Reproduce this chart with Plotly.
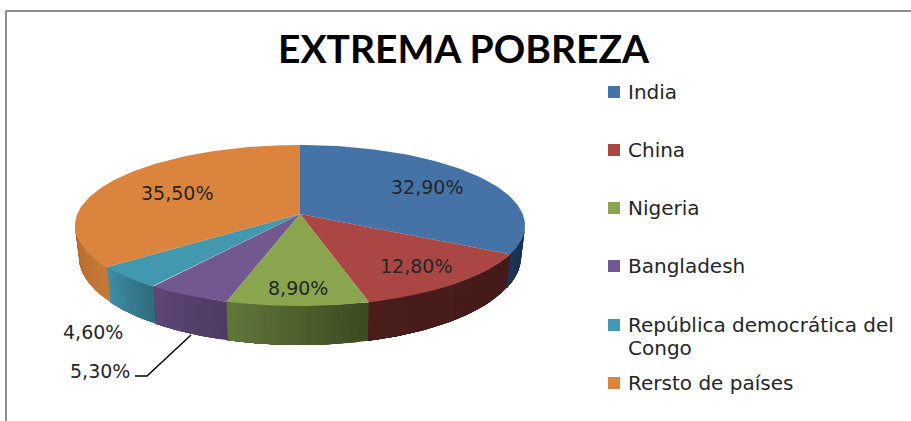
"""Extrema pobreza: tilted 3D pie drawn as filled scatter polygons, because
go.Pie can only do flat circles."""
import numpy as np
import plotly.graph_objects as go

COUNTRIES = ["India", "China", "Nigeria", "Bangladesh",
             "República democrática del<br>Congo", "Rersto de países"]
SHARES = [32.9, 12.8, 8.9, 5.3, 4.6, 35.5]
LABELS = ["32,90%", "12,80%", "8,90%", "5,30%", "4,60%", "35,50%"]
TOP_COLORS = ["#4573A7", "#AA4643", "#89A54E", "#71588F", "#4198AF", "#DB843D"]
# left and right colour of each slice's outer wall
SIDE_COLORS = [
    ("#1B3553", "#17304C"), ("#4A1D1B", "#431A18"), ("#61773A", "#3C4A20"),
    ("#5D4677", "#4E3A62"), ("#3F8FA6", "#2F6B7E"), ("#B06A2E", "#C67A38"),
]
LEGEND_ROWS = [92, 150, 208, 266, 325, 383]
# how far out along its slice each on-pie label sits
LABEL_RADIUS = {0: 0.70, 1: 0.765, 2: 0.827, 5: 0.64}

CX, CY = 300, 214      # where the slices meet
RX, HY = 222.7, 78.9   # projected radii
K = 0.143              # perspective strength
DEPTH = 29             # wall height at the sides of the pie
DEPTH_FRONT = 10       # extra wall height at the very front
BASE_SCALE = 0.983     # the base of the pie is slightly narrower than the top
FONT = "DejaVu Sans"
TEXT = "#262626"


def project(theta, r=1.0):
    """Clockwise angle from 12 o'clock (degrees) to pixel position."""
    t = np.radians(theta)
    u, v = r * np.sin(t), r * np.cos(t)
    w = 1 + K * v
    return CX + RX * u / w, CY - HY * v / w


def project_base(theta):
    """Same, on the bottom edge of the wall."""
    x, y = project(theta)
    v = np.cos(np.radians(theta))
    return CX + (x - CX) * BASE_SCALE, y + DEPTH - DEPTH_FRONT * v


def add_poly(fig, xs, ys, color):
    fig.add_trace(go.Scatter(
        x=xs, y=ys, mode="lines", fill="toself", fillcolor=color,
        line=dict(color=color, width=0), hoverinfo="skip", showlegend=False,
    ))


def mix(a, b, f):
    ca = [int(a[i:i + 2], 16) for i in (1, 3, 5)]
    cb = [int(b[i:i + 2], 16) for i in (1, 3, 5)]
    return "rgb({},{},{})".format(*[round(p + (q - p) * f) for p, q in zip(ca, cb)])


edges = np.concatenate([[0], np.cumsum(SHARES)]) * 3.6
limit = np.degrees(np.arccos(-K))  # silhouette angle, the wall is visible beyond it

fig = go.Figure()

# outer walls, clipped to the front of the pie. Each gradient step runs on to
# the end of the slice and the next one paints over it, so no seams show.
for i, (start, end) in enumerate(zip(edges[:-1], edges[1:])):
    a, b = max(start, limit), min(end, 360 - limit)
    if a >= b:
        continue
    steps = np.linspace(a, b, 17)
    for j, s in enumerate(steps[:-1]):
        th = np.linspace(s, b, 40)
        x1, y1 = project(th)
        x2, y2 = project_base(th[::-1])
        # the gradient runs left to right on screen, the angle runs right to left
        f = 1 - (j + 0.5) / (len(steps) - 1)
        add_poly(fig, np.r_[x1, x2], np.r_[y1, y2], mix(*SIDE_COLORS[i], f))

# top faces
for i, (start, end) in enumerate(zip(edges[:-1], edges[1:])):
    x, y = project(np.linspace(start, end, 90))
    add_poly(fig, np.r_[CX, x, CX], np.r_[CY, y, CY], TOP_COLORS[i])

# labels that sit on their slice
mids = (edges[:-1] + edges[1:]) / 2
for i, r in LABEL_RADIUS.items():
    lx, ly = project(mids[i], r=r)
    fig.add_annotation(x=lx, y=ly, text=LABELS[i], showarrow=False,
                       font=dict(family=FONT, size=19, color=TEXT))

# the two small slices are labelled outside, one with a leader line
fig.add_annotation(x=93, y=332, text=LABELS[4], showarrow=False,
                   font=dict(family=FONT, size=19, color=TEXT))
fig.add_annotation(x=100, y=371, text=LABELS[3], showarrow=False,
                   font=dict(family=FONT, size=19, color=TEXT))
fig.add_trace(go.Scatter(x=[135, 147, 191], y=[376, 376, 335], mode="lines",
                         line=dict(color="#000000", width=1.5),
                         hoverinfo="skip", showlegend=False))

# legend
fig.add_trace(go.Scatter(
    x=[614] * len(COUNTRIES), y=LEGEND_ROWS, mode="markers",
    marker=dict(symbol="square", size=12, color=TOP_COLORS),
    hoverinfo="skip", showlegend=False,
))
for name, row in zip(COUNTRIES, LEGEND_ROWS):
    for n, line in enumerate(name.split("<br>")):
        fig.add_annotation(x=626, y=row + 23 * n, text=line, showarrow=False,
                           xanchor="left", align="left",
                           font=dict(family=FONT, size=20, color=TEXT))

# chart frame: only the top and left edges show in the picture
fig.add_shape(type="line", x0=6, x1=911, y0=11, y1=11, line=dict(color="#8F8F8F", width=2))
fig.add_shape(type="line", x0=6, x1=6, y0=11, y1=421, line=dict(color="#8F8F8F", width=2))

fig.add_annotation(x=464, y=48, text="<b>EXTREMA POBREZA</b>", showarrow=False,
                   font=dict(family="Lato", size=39, color="#000000"))

fig.update_layout(
    width=911, height=421, margin=dict(l=0, r=0, t=0, b=0),
    paper_bgcolor="white", plot_bgcolor="white", showlegend=False,
    xaxis=dict(range=[0, 911], visible=False, fixedrange=True),
    yaxis=dict(range=[421, 0], visible=False, fixedrange=True),
)
# the page's default body margin would push the figure 8px in
fig.write_html("out.html", config=dict(displayModeBar=False),
               post_script="document.body.style.margin='0';")
